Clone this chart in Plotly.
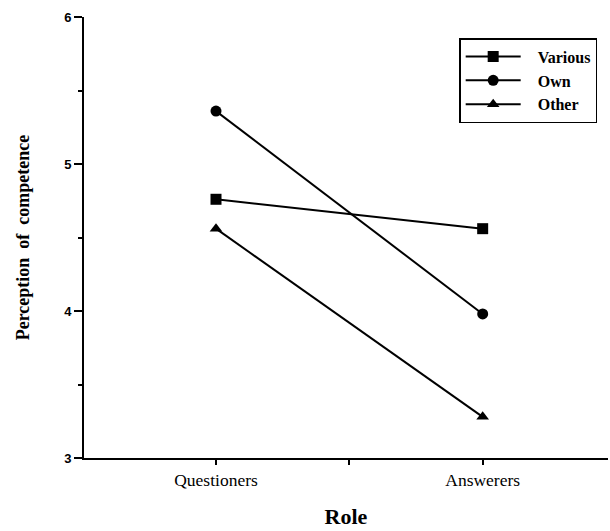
import plotly.graph_objects as go

roles = ["Questioners", "Answerers"]
role_pos = [0, 2]
tick_vals = [0, 1, 2]
tick_text = ["Questioners", "", "Answerers"]
series_names = ["Various", "Own", "Other"]
various = [4.76, 4.56]
own = [5.36, 3.98]
other = [4.56, 3.28]
symbols = ["square", "circle", "triangle-up"]

FONT = "Liberation Serif"
NB = "\u00a0\u00a0\u00a0"
fig = go.Figure()
for name, vals, sym in zip(series_names, [various, own, other], symbols):
    fig.add_trace(go.Scatter(
        x=role_pos, y=vals, name=f"{NB}<b>{name}</b>", mode="lines+markers",
        line=dict(color="black", width=2),
        marker=dict(symbol=sym, size=11, color="black"),
    ))

fig.update_layout(
    width=610, height=531,
    margin=dict(l=84, r=2, t=17, b=73),
    plot_bgcolor="white", paper_bgcolor="white",
    font=dict(family=FONT, color="black", size=14),
    showlegend=True,
    legend=dict(
        x=0.716, y=0.952, xanchor="left", yanchor="top",
        bordercolor="black", borderwidth=1.5, bgcolor="white",
        font=dict(family=FONT, size=16, color="black"),
        itemwidth=55, tracegroupgap=0,
    ),
    xaxis=dict(
        range=[-0.99, 2.94], tickmode="array", tickvals=tick_vals, ticktext=tick_text,
        showline=True, linecolor="black", linewidth=2, ticks="outside",
        ticklen=5, tickwidth=2, tickcolor="black", showgrid=False, zeroline=False,
        automargin=False,
        tickfont=dict(family=FONT, size=17.5, color="black"),
        title=dict(text="<b>Role</b>", font=dict(family=FONT, size=22), standoff=20),
    ),
    yaxis=dict(
        range=[3, 6], tickmode="array", tickvals=[3, 4, 5, 6], ticktext=["<b>3</b>", "<b>4</b>", "<b>5</b>", "<b>6</b>"],
        showline=True, linecolor="black", linewidth=2, ticks="outside",
        ticklen=8, tickwidth=2, tickcolor="black", showgrid=False, zeroline=False,
        automargin=False,
        tickfont=dict(family="Liberation Sans", size=13, color="black"),
        minor=dict(tickvals=[3.5, 4.5, 5.5], ticks="outside", ticklen=4, tickwidth=2, tickcolor="black"),
        title=dict(text="<b>Perception  of  competence</b>", font=dict(family=FONT, size=18), standoff=30),
    ),
)
fig.write_html("out.html", config={"displayModeBar": False},
               post_script="document.body.style.margin='0';document.body.style.overflow='hidden';")
